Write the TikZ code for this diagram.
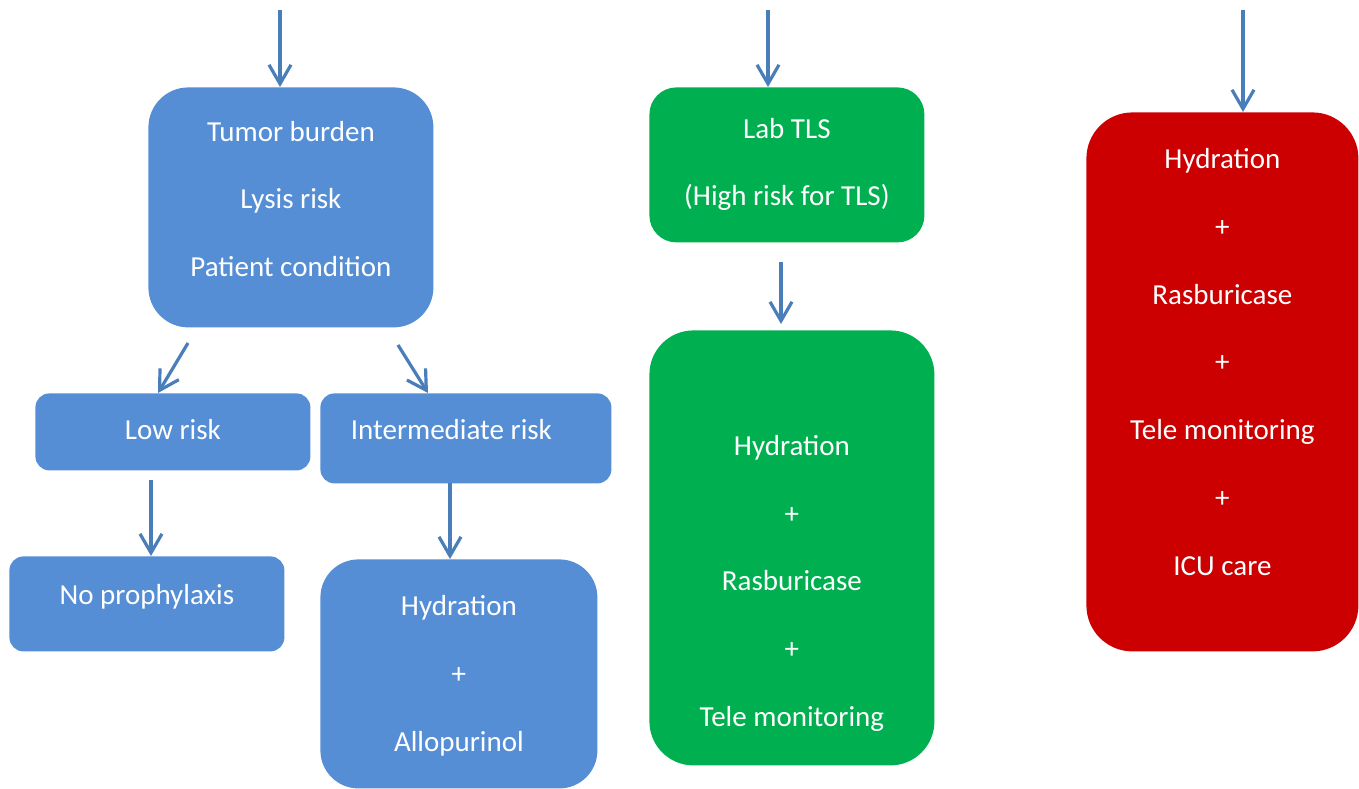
\documentclass[tikz,border=0pt]{standalone}
\usepackage{fontspec}
\setmainfont{Carlito}
\usetikzlibrary{arrows.meta,positioning}
\definecolor{Boxblue}{RGB}{85,142,213}
\definecolor{Boxgreen}{RGB}{0,176,80}
\definecolor{Boxred}{RGB}{204,0,0}
\definecolor{Arrowblue}{RGB}{74,126,187}

\begin{document}
\begin{tikzpicture}[x=0.5pt,y=-0.5pt,
  riskbox/.style={rectangle, inner sep=0pt, anchor=north west},
  boxtext/.style={text=white, align=center, font=\fontsize{14.5}{33.9}\selectfont},
  flow/.style={draw=Arrowblue, line width=1.6pt, -{Straight Barb[length=9.5pt,width=11pt]}}]
\useasboundingbox (0,0) rectangle (1359,788);
%
% left branch
\node[riskbox, fill=Boxblue, rounded corners=20pt, minimum width=142.5pt, minimum height=120pt,
  label={[boxtext,yshift=4.25pt]center:{Tumor burden\\Lysis risk\\Patient condition}}] (tumor) at (148,87) {};
\node[riskbox, fill=Boxblue, rounded corners=7pt, minimum width=137.5pt, minimum height=38.5pt,
  label={[boxtext,yshift=1.25pt]center:{Low risk}}] (low) at (35,393) {};
\node[riskbox, fill=Boxblue, rounded corners=7pt, minimum width=145.5pt, minimum height=45pt,
  label={[boxtext,xshift=-7.25pt,yshift=4.5pt]center:{Intermediate risk}}] (inter) at (320,393) {};
\node[riskbox, fill=Boxblue, rounded corners=7pt, minimum width=137.5pt, minimum height=47.5pt,
  label={[boxtext,yshift=3.75pt]center:{No prophylaxis}}] (noproph) at (9,556) {};
\node[riskbox, fill=Boxblue, rounded corners=19pt, minimum width=138.5pt, minimum height=114.5pt,
  label={[boxtext,yshift=-1pt]center:{Hydration\\+\\Allopurinol}}] (allo) at (320,559) {};
%
% middle branch
\node[riskbox, fill=Boxgreen, rounded corners=13.5pt, minimum width=137.5pt, minimum height=77.5pt,
  label={[boxtext,yshift=0.25pt]center:{Lab TLS\\(High risk for TLS)}}] (lab) at (649,87) {};
\node[riskbox, fill=Boxgreen, rounded corners=22pt, minimum width=142.5pt, minimum height=217.5pt,
  label={[boxtext,yshift=-17.75pt]center:{Hydration\\+\\Rasburicase\\+\\Tele monitoring}}] (rasb) at (649,330) {};
%
% right branch
\node[riskbox, fill=Boxred, rounded corners=23pt, minimum width=136pt, minimum height=269.5pt,
  label={[boxtext,yshift=10pt]center:{Hydration\\+\\Rasburicase\\+\\Tele monitoring\\+\\ICU care}}] (icu) at (1086,112) {};
%
% arrows
\coordinate (in1) at (280,10);
\coordinate (in2) at (768,10);
\coordinate (in3) at (1243,10);
\coordinate (t1) at (188,343);
\coordinate (t2) at (398,345);
\coordinate (t3) at (151,480);
\coordinate (t4) at (450,483);
\coordinate (t5) at (781,262);
\draw[flow] (in1) -- (in1 |- tumor.north);
\draw[flow] (in2) -- (in2 |- lab.north);
\draw[flow] (in3) -- (in3 |- icu.north);
\draw[flow] (t1) -- (158,0 |- low.north);
\draw[flow] (t2) -- (428,0 |- inter.north);
\draw[flow] (t3) -- (t3 |- noproph.north);
\draw[flow] (t4) -- (t4 |- allo.north);
\draw[flow] (t5) -- ([yshift=3pt]t5 |- rasb.north);
\end{tikzpicture}
\end{document}
